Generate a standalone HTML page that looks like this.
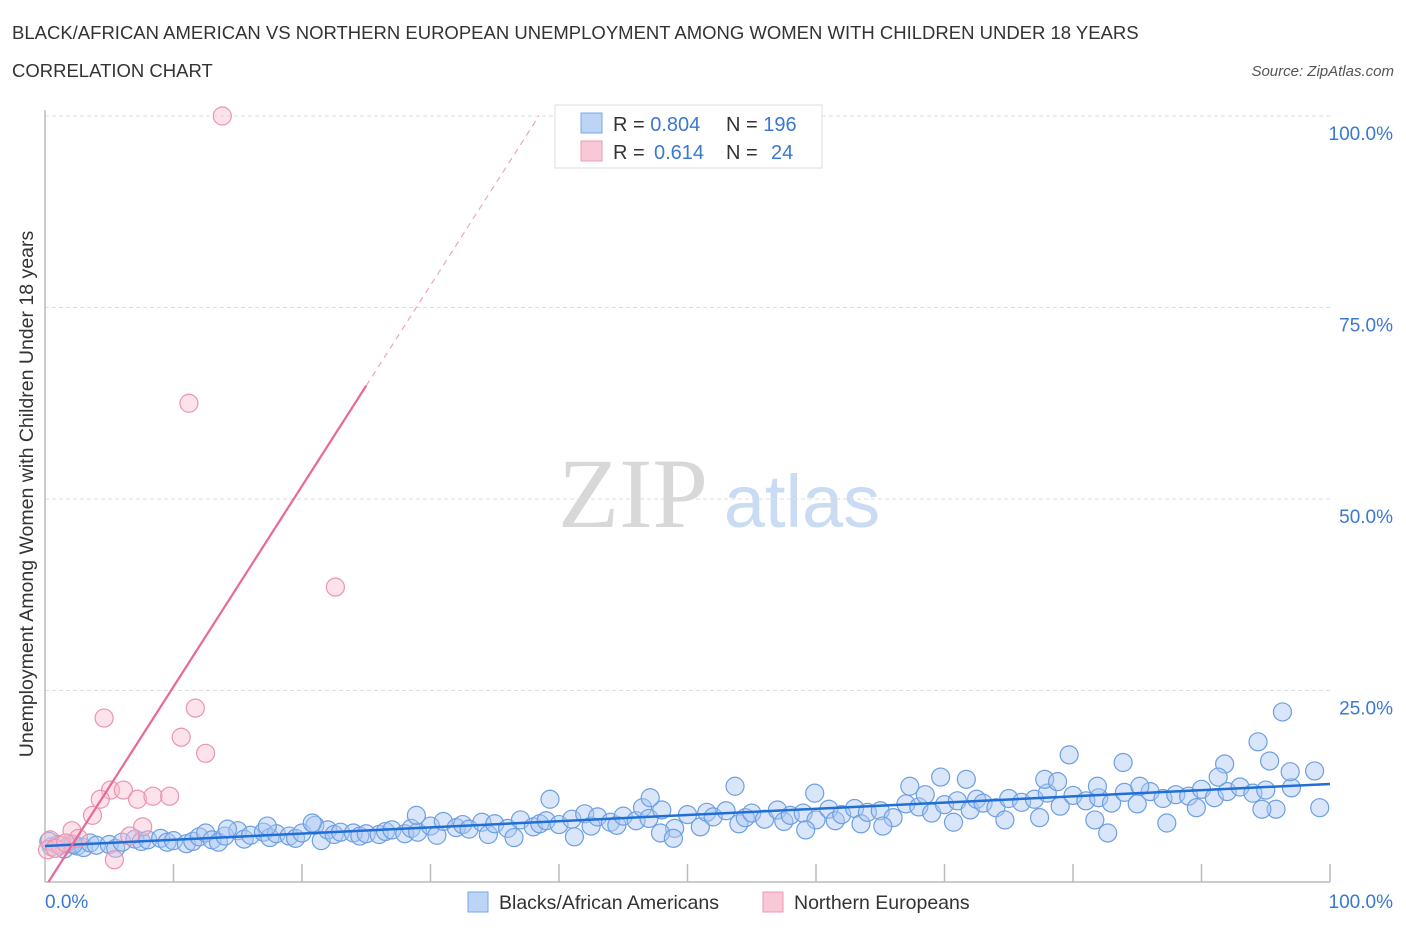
<!DOCTYPE html>
<html><head><meta charset="utf-8"><style>
body{margin:0;background:#fff;font-family:"Liberation Sans",sans-serif}
</style></head><body>
<svg id="chart" width="1406" height="930" xmlns="http://www.w3.org/2000/svg" font-family="Liberation Sans, sans-serif">
<text x="12" y="39" font-size="18.5" fill="#333">BLACK/AFRICAN AMERICAN VS NORTHERN EUROPEAN UNEMPLOYMENT AMONG WOMEN WITH CHILDREN UNDER 18 YEARS</text>
<text x="12" y="77" font-size="18.5" fill="#333">CORRELATION CHART</text>
<text x="1394" y="76" font-size="15" fill="#555" font-style="italic" text-anchor="end">Source: ZipAtlas.com</text>
<g>
<text x="633" y="527" font-size="100" fill="#d8d8d8" style="font-family:'Liberation Serif',serif" text-anchor="middle">ZIP</text>
<text x="802" y="527" font-size="74" fill="#c9dcf3" text-anchor="middle">atlas</text>
</g>
<g id="grid"></g>
<line x1="45" y1="110" x2="45" y2="882" stroke="#bbb" stroke-width="1.5"/>
<line x1="45" y1="882" x2="1330" y2="882" stroke="#bbb" stroke-width="1.5"/>
<g id="xticks"></g>
<text x="33" y="494" font-size="19.5" fill="#333" text-anchor="middle" transform="rotate(-90 33 494)">Unemployment Among Women with Children Under 18 years</text>
<text x="45" y="908" font-size="19" fill="#3a78d4">0.0%</text>
<text x="1393" y="908" font-size="19" fill="#3a78d4" text-anchor="end">100.0%</text>
<g id="pts"></g>
<g id="lines"></g>
<g>
<rect x="555" y="105" width="267" height="63" fill="#fff" stroke="#ddd"/>
<rect x="581" y="113" width="21" height="20" fill="#bcd4f6" stroke="#7aa7e6"/>
<rect x="581" y="141" width="21" height="20" fill="#f9c8d6" stroke="#ec9ab2"/>
<text x="613" y="131" font-size="20" fill="#333">R = <tspan fill="#3a78d4">0.804</tspan><tspan x="726">N = </tspan><tspan fill="#3a78d4">196</tspan></text>
<text x="613" y="159" font-size="20" fill="#333">R = <tspan fill="#3a78d4" x="654">0.614</tspan><tspan x="726">N = </tspan><tspan fill="#3a78d4" x="771">24</tspan></text>
</g>
<g>
<rect x="468" y="892" width="20" height="20" fill="#bcd4f6" stroke="#7aa7e6"/>
<text x="499" y="909" font-size="19.5" fill="#333">Blacks/African Americans</text>
<rect x="763" y="892" width="20" height="20" fill="#f9c8d6" stroke="#ec9ab2"/>
<text x="794" y="909" font-size="19.5" fill="#333">Northern Europeans</text>
</g>
</svg>
<script>
const yTicks=[25,50,75,100];
const yTickLabels=["25.0%","50.0%","75.0%","100.0%"];
const blueX=[0.5,1,1.5,2,2.5,3,3.5,4,5,5.5,6,7,7.5,8,9,9.5,10,11,11.5,12,12.5,13,13.5,14,15,15.5,16,17,17.5,18,19,19.5,20,21,21.5,22,22.5,23,24,24.5,25,26,26.5,27,28,28.5,29,30,30.5,31,32,32.5,33,34,34.5,35,36,36.5,37,38,38.5,39,40,41,42,42.5,43,44,44.5,45,46,46.5,47,48,49,50,51,51.5,52,53,54,54.5,55,56,57,57.5,58,59,60,61,61.5,62,63,63.5,64,65,66,67,68,68.5,69,70,71,72,72.5,73,74,75,76,77,78,79,80,81,82,83,84,85,86,87,88,89,90,91,92,93,94,95,97,
96.3,94.4,79.7,83.9,91.8,95.3,96.9,98.8,99.2,95.8,94.7,82.7,87.3,81.7,69.7,71.7,67.3,53.7,59.9,47.1,39.3,28.9,20.8,17.3,14.2,41.2,47.9,48.9,59.2,65.2,70.7,74.7,77.4,89.6,91.3,85.2,81.9,77.8,78.8,0.3,2.2];
const blueY=[4.6,4.9,4.3,5.0,4.7,4.5,5.1,4.8,4.9,4.4,5.2,5.6,5.3,5.5,5.7,5.2,5.4,5.0,5.3,5.9,6.4,5.5,5.2,6.0,6.7,5.6,6.1,6.5,5.8,6.3,6.0,5.7,6.4,7.4,5.4,6.8,6.2,6.5,6.4,6.0,6.3,6.2,6.6,6.8,6.3,7.0,6.5,7.3,6.1,7.9,7.1,7.5,6.9,7.8,6.2,7.6,7.0,5.8,8.1,7.2,7.6,8.0,7.5,8.2,8.9,7.3,8.5,7.8,7.4,8.6,8.0,9.7,8.3,9.4,7.0,8.8,7.2,9.1,8.5,9.3,7.6,8.4,9.0,8.2,9.4,7.9,8.7,9.0,8.1,9.5,8.0,8.8,9.6,7.6,9.1,9.3,8.4,10.2,9.8,11.4,9.0,10.1,10.6,9.4,10.8,10.3,9.7,10.9,10.4,10.8,11.6,9.9,11.3,10.6,11.0,10.3,11.7,10.2,11.8,10.9,11.4,11.2,12.1,11.0,11.8,12.4,11.6,12.0,12.3,
22.2,18.3,16.6,15.6,15.4,15.8,14.4,14.5,9.7,9.5,9.5,6.4,7.7,8.1,13.7,13.4,12.5,12.5,11.6,11.0,10.8,8.7,7.7,7.3,6.9,5.9,6.4,5.7,6.8,7.3,7.8,8.1,8.4,9.7,13.7,12.5,12.5,13.4,13.1,5.3,4.9];
const pinkX=[13.8,11.2,22.6,11.7,4.6,10.6,12.5,5.1,6.1,4.3,7.2,8.4,9.7,3.7,7.6,5.4,2.1,2.6,0.4,0.2,1.2,0.8,1.6,6.6];
const pinkY=[100,62.5,38.5,22.7,21.4,18.9,16.8,12.0,12.0,10.8,10.8,11.2,11.2,8.7,7.2,2.9,6.7,5.7,5.5,4.2,4.8,4.4,5.1,6.0];
const blueFit=[4.7,12.8];
const pinkFit=[-0.7,2.62];
const X=v=>45+v*12.85, Y=v=>882-v*7.66;
const NS="http://www.w3.org/2000/svg";
function mk(t,a,p){const e=document.createElementNS(NS,t);for(const k in a)e.setAttribute(k,a[k]);p.appendChild(e);return e;}
const grid=document.getElementById('grid');
yTicks.forEach((t,i)=>{
 const l=mk('line',{x1:45,x2:1330,y1:Y(t),y2:Y(t),stroke:'#ddd','stroke-dasharray':'4,3'},grid);
 
 
 const tx=mk('text',{x:1393,y:Y(t)+24,'font-size':19,fill:'#3a78d4','text-anchor':'end'},grid);
 tx.textContent=yTickLabels[i];
 
 
});
const xt=document.getElementById('xticks');
for(let i=1;i<=10;i++){
 const l=mk('line',{x1:X(i*10),x2:X(i*10),y1:864,y2:882,stroke:'#bbb','stroke-width':1.5},xt);
 
 
}
const pts=document.getElementById('pts');
blueX.forEach((x,i)=>{
 const c=mk('circle',{cx:X(x),cy:Y(blueY[i]),r:9,fill:'rgba(170,200,242,0.45)',stroke:'#6d9fe2','stroke-width':1.2},pts);
 
 
});
pinkX.forEach((x,i)=>{
 const c=mk('circle',{cx:X(x),cy:Y(pinkY[i]),r:9,fill:'rgba(248,190,208,0.45)',stroke:'#eb94ae','stroke-width':1.2},pts);
 
 
});
const ln=document.getElementById('lines');
const bl=mk('line',{x1:X(0),y1:Y(blueFit[0]),x2:X(100),y2:Y(blueFit[1]),stroke:'#1f6fd6','stroke-width':2.5},ln);


const pf=x=>pinkFit[0]+pinkFit[1]*x;
const x0=-pinkFit[0]/pinkFit[1], x1=25, x2=(100-pinkFit[0])/pinkFit[1];
const pl=mk('line',{x1:X(x0),y1:Y(pf(x0)),x2:X(x1),y2:Y(pf(x1)),stroke:'#e8689a','stroke-width':2.2},ln);


const pd=mk('line',{x1:X(x1),y1:Y(pf(x1)),x2:X(x2),y2:Y(pf(x2)),stroke:'#eca6bd','stroke-width':1.2,'stroke-dasharray':'6,5'},ln);


</script>
</body></html>
